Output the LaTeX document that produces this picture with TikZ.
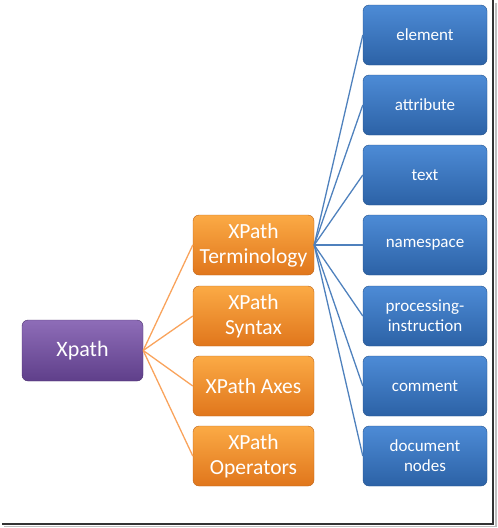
\documentclass[tikz,border=0pt]{standalone}
\usepackage{fontspec}
\setmainfont{Carlito}
\usetikzlibrary{positioning,calc}

\definecolor{purpleTop}{HTML}{8E6DB8}
\definecolor{purpleBot}{HTML}{5F3F8A}
\definecolor{orangeTop}{HTML}{FBAA45}
\definecolor{orangeBot}{HTML}{E0761C}
\definecolor{blueTop}{HTML}{4D8BD6}
\definecolor{blueBot}{HTML}{2C62A6}
\definecolor{orangeLine}{HTML}{F9A35C}
\definecolor{blueLine}{HTML}{4F81BD}

\begin{document}
\begin{tikzpicture}[
    x=1pt, y=-1pt,
    rootbox/.style={draw=purpleBot!80!black, rounded corners=6pt, align=center,
                top color=purpleTop, bottom color=purpleBot, text=white,
                minimum height=61pt, minimum width=121pt, inner sep=2pt,
                font=\fontsize{22}{26}\selectfont},
    topicbox/.style={draw=orangeBot!85!black, rounded corners=6pt, align=center,
                top color=orangeTop, bottom color=orangeBot, text=white,
                minimum height=60pt, minimum width=121pt, inner sep=2pt,
                font=\fontsize{21.5}{25}\selectfont},
    itembox/.style={draw=blueBot!85!black, rounded corners=6pt, align=center,
                top color=blueTop, bottom color=blueBot, text=white,
                minimum height=60pt, minimum width=124pt, inner sep=2pt,
                font=\fontsize{17}{20}\selectfont},
    olink/.style={draw=orangeLine, line width=1.3pt},
    blink/.style={draw=blueLine, line width=1.3pt},
]

%% ---- page size and frame ----
\useasboundingbox (0,0) rectangle (498,528);
\fill[black!25] (495,3) rectangle (497,527);
\fill[black!25] (4,526) rectangle (497,527);
\draw[black!80, line width=1.2pt] (493,0) -- (493,524) -- (2,524);

%% ---- root ----
\node[rootbox] (xpath) at (82.5,350.5) {Xpath};

%% ---- middle column ----
\node[topicbox] (term) at (253.5,245) {XPath\\Terminology};
\node[topicbox] (syntax) at (253.5,316) {XPath\\Syntax};
\node[topicbox] (axes) at (253.5,386) {XPath Axes};
\node[topicbox] (ops) at (253.5,456) {XPath\\Operators};

%% ---- right column ----
\node[itembox] (element) at (425,35) {element};
\node[itembox] (attr) at (425,105) {attribute};
\node[itembox] (text) at (425,175) {text};
\node[itembox] (ns) at (425,245) {namespace};
\node[itembox] (pi) at (425,316) {processing-\\instruction};
\node[itembox] (comment) at (425,386) {comment};
\node[itembox] (docnodes) at (425,456) {document\\nodes};

%% ---- links root -> topics ----
\foreach \t in {term,syntax,axes,ops}
    \draw[olink] (xpath.east) -- (\t.west);

%% ---- links terminology -> items ----
\foreach \i in {element,attr,text,ns,pi,comment,docnodes}
    \draw[blink] (term.east) -- (\i.west);

\end{tikzpicture}
\end{document}
